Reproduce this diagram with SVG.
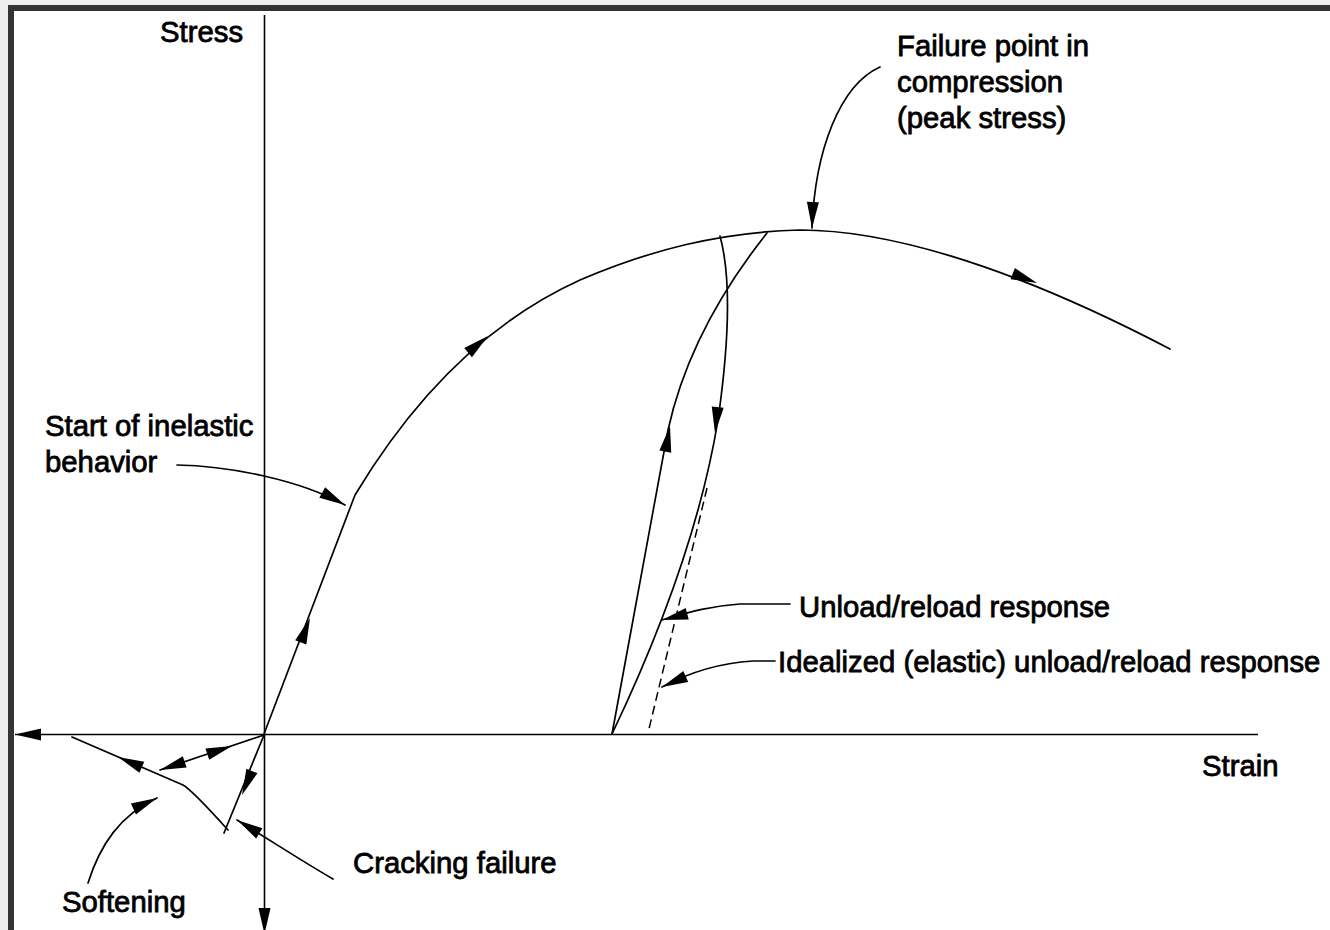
<svg xmlns="http://www.w3.org/2000/svg" xmlns:xlink="http://www.w3.org/1999/xlink" width="1330" height="930" viewBox="0 0 1330 930">
<style>
.ln{fill:none;stroke:#000;stroke-width:1.7;stroke-linecap:round;stroke-linejoin:round}
.ax{fill:none;stroke:#000;stroke-width:1.6}
.ds{fill:none;stroke:#000;stroke-width:1.5;stroke-dasharray:9,5}
.t{font-family:"Liberation Sans",Arial,sans-serif;font-size:29.3px;fill:#000;stroke:#000;stroke-width:0.8}
.ah{fill:#000}
</style>
<defs>
<path id="ah" d="M0,0 L-26,-6 L-26,6 Z"/>
</defs>
<rect x="0" y="0" width="1330" height="930" fill="#eeeeee"/>
<rect x="11" y="8" width="1340" height="940" fill="#ffffff" stroke="#333333" stroke-width="6"/>

<g id="axes">
<line class="ax" x1="264.5" y1="15" x2="264.5" y2="928"/>
<line class="ax" x1="15" y1="734.5" x2="1258" y2="734.5"/>
<use href="#ah" class="ah" transform="translate(15,734.5) rotate(180)"/>
<use href="#ah" class="ah" transform="translate(264.5,934) rotate(90)"/>
</g>

<g id="connectors">
<!-- main loading curve -->
<path class="ln" d="M264,734 L355,495 C400,420 470,330 580,280 C650,250 720,232 800,230 C880,230 1000,260 1170,349"/>
<!-- unload curve -->
<path class="ln" d="M720,236 C732,280 728,350 718,420 Q695,560 612,734"/>
<!-- reload curve -->
<path class="ln" d="M612,734 L668,430 Q690,330 767,233"/>
<!-- idealized elastic unload/reload -->
<line class="ds" x1="707" y1="488" x2="648" y2="733"/>
<!-- cracking branch -->
<line class="ln" x1="264" y1="735" x2="224" y2="833"/>
<!-- softening curve -->
<path class="ln" d="M72,737 L183,785 Q192,790 228,830"/>
<!-- reversal line -->
<line class="ln" x1="264" y1="735" x2="160" y2="770"/>
<!-- leaders -->
<path class="ln" d="M880,67 C840,85 815,150 812,228"/>
<path class="ln" d="M177,465 C230,466 300,480 345,505"/>
<path class="ln" d="M790,604 L740,604 C710,606 690,612 662,620"/>
<path class="ln" d="M775,661 L753,661 C720,663 690,672 662,687"/>
<path class="ln" d="M333,879 C300,860 270,840 237,820"/>
<path class="ln" d="M88,883 C100,845 120,815 157,798"/>

<!-- arrowheads -->
<use href="#ah" class="ah" transform="translate(310,618) rotate(-69.2)"/>
<use href="#ah" class="ah" transform="translate(488,336) rotate(-40)"/>
<use href="#ah" class="ah" transform="translate(812,228) rotate(92)"/>
<use href="#ah" class="ah" transform="translate(1037,283) rotate(21)"/>
<use href="#ah" class="ah" transform="translate(715,433) rotate(96)"/>
<use href="#ah" class="ah" transform="translate(670,426) rotate(-79.6)"/>
<use href="#ah" class="ah" transform="translate(662,620) rotate(166)"/>
<use href="#ah" class="ah" transform="translate(662,687) rotate(156)"/>
<use href="#ah" class="ah" transform="translate(345,505) rotate(29)"/>
<use href="#ah" class="ah" transform="translate(237,820) rotate(-149)"/>
<use href="#ah" class="ah" transform="translate(157,798) rotate(-25)"/>
<use href="#ah" class="ah" transform="translate(118,757) rotate(-156.5)"/>
<use href="#ah" class="ah" transform="translate(242,795) rotate(112.4)"/>
<use href="#ah" class="ah" transform="translate(160,770) rotate(161.7)"/>
<use href="#ah" class="ah" transform="translate(232,746) rotate(-18.3)"/>
</g>

<g id="label-stress"><text class="t" x="160" y="42">Stress</text></g>
<g id="label-strain"><text class="t" x="1202" y="776">Strain</text></g>
<g id="label-failure">
<text class="t" x="897" y="56">Failure point in</text>
<text class="t" x="897" y="92">compression</text>
<text class="t" x="897" y="128">(peak stress)</text>
</g>
<g id="label-inelastic">
<text class="t" x="45" y="436">Start of inelastic</text>
<text class="t" x="45" y="472">behavior</text>
</g>
<g id="label-unload"><text class="t" x="799" y="617">Unload/reload response</text></g>
<g id="label-idealized"><text class="t" x="778" y="672">Idealized (elastic) unload/reload response</text></g>
<g id="label-cracking"><text class="t" x="353" y="873">Cracking failure</text></g>
<g id="label-softening"><text class="t" x="62" y="912">Softening</text></g>
</svg>
